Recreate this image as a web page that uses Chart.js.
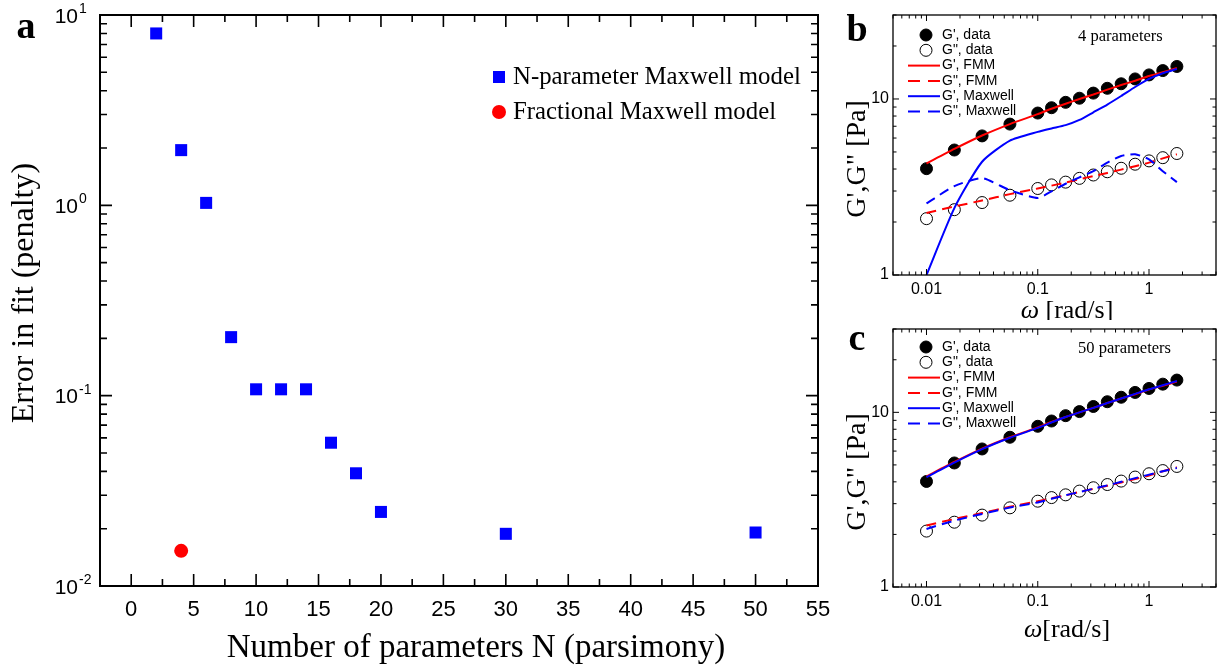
<!DOCTYPE html>
<html>
<head>
<meta charset="utf-8">
<script src="https://cdn.jsdelivr.net/npm/chart.js@4.4.1/dist/chart.umd.min.js"></script>
<style>
  body { margin: 0; background: #fff; width: 1223px; height: 671px; overflow: hidden; position: relative; }
  canvas { position: absolute; }
</style>
</head>
<body>
<canvas id="chartA" width="840" height="671" style="left:0;top:0;width:840px;height:671px"></canvas>
<canvas id="chartB" width="383" height="320" style="left:840px;top:0;width:383px;height:320px"></canvas>
<canvas id="chartC" width="383" height="351" style="left:840px;top:320px;width:383px;height:351px"></canvas>
<script>
// Error vs. number of parameters
const paramCounts = [2, 4, 6, 8, 10, 12, 14, 16, 18, 20, 30, 50];
const maxwellError = [8.0, 1.95, 1.03, 0.203, 0.108, 0.108, 0.108, 0.0566, 0.0391, 0.0245, 0.0188, 0.0191];
const fmmParams = [4];
const fmmError = [0.0153];

// Frequency sweep (rad/s) and moduli (Pa)
const omega = [0.01, 0.0178, 0.0316, 0.0562, 0.1, 0.133, 0.178, 0.237, 0.316, 0.422, 0.562, 0.75, 1, 1.33, 1.78];
const storageData = [4.02, 5.13, 6.17, 7.2, 8.32, 8.92, 9.57, 10.1, 10.8, 11.5, 12.2, 13.0, 13.7, 14.5, 15.3];
const lossData = [2.09, 2.35, 2.58, 2.84, 3.1, 3.25, 3.37, 3.54, 3.7, 3.86, 4.04, 4.26, 4.45, 4.64, 4.9];
const storageFmm = [4.3, 5.2, 6.2, 7.2, 8.2, 8.8, 9.4, 10.0, 10.6, 11.3, 12.0, 12.7, 13.5, 14.2, 15.0];
const lossFmm = [2.25, 2.45, 2.65, 2.88, 3.1, 3.22, 3.35, 3.5, 3.65, 3.8, 3.97, 4.15, 4.35, 4.6, 4.85];
const storageMaxwell4 = [1.0, 2.4, 4.4, 5.8, 6.5, 6.8, 7.1, 7.6, 8.4, 9.3, 10.4, 11.7, 13.0, 14.0, 14.8];
const lossMaxwell4 = [2.55, 3.2, 3.55, 3.03, 2.74, 2.99, 3.3, 3.59, 3.89, 4.35, 4.74, 4.85, 4.54, 3.89, 3.37];
const storageMaxwell50 = [4.25, 5.15, 6.15, 7.15, 8.15, 8.75, 9.4, 10.0, 10.6, 11.3, 12.0, 12.75, 13.55, 14.3, 15.1];
const lossMaxwell50 = [2.15, 2.4, 2.62, 2.85, 3.05, 3.2, 3.35, 3.5, 3.65, 3.82, 4.0, 4.2, 4.4, 4.6, 4.8];

const BLUE = '#0000ff';
const RED = '#ff0000';
const SERIF = '"Liberation Serif", "Times New Roman", serif';
const SANS = '"Liberation Sans", Arial, sans-serif';

const pts = (xs, ys) => xs.map((x, i) => ({ x: x, y: ys[i] }));

// tick lists: {v, major}
const logTicks = (min, max) => {
  const out = [];
  for (let d = Math.floor(Math.log10(min)); d <= Math.ceil(Math.log10(max)); d++) {
    for (let m = 1; m < 10; m++) {
      const v = m * Math.pow(10, d);
      if (v >= min * 0.999 && v <= max * 1.001) out.push({ v: v, major: m === 1 });
    }
  }
  return out;
};
const linTicks = (from, to, step, majorEvery) => {
  const out = [];
  for (let v = from; v <= to + 1e-9; v += step) {
    out.push({ v: v, major: Math.abs(v / majorEvery - Math.round(v / majorEvery)) < 1e-6 });
  }
  return out;
};

// box frame with inward ticks on all four sides
const axisFrame = {
  id: 'axisFrame',
  afterDatasetsDraw(chart, args, o) {
    const { ctx, chartArea: a, scales } = chart;
    const x = scales.x, y = scales.y;
    ctx.save();
    ctx.strokeStyle = '#000';
    ctx.lineWidth = o.tickWidth;
    ctx.beginPath();
    o.xTicks.forEach(t => {
      const px = x.getPixelForValue(t.v);
      const len = t.major ? o.majorLen : o.minorLen;
      ctx.moveTo(px, a.bottom); ctx.lineTo(px, a.bottom - len);
      ctx.moveTo(px, a.top); ctx.lineTo(px, a.top + len);
    });
    o.yTicks.forEach(t => {
      const py = y.getPixelForValue(t.v);
      const len = t.major ? o.majorLen : o.minorLen;
      ctx.moveTo(a.left, py); ctx.lineTo(a.left + len, py);
      ctx.moveTo(a.right, py); ctx.lineTo(a.right - len, py);
    });
    ctx.stroke();
    ctx.lineWidth = o.frameWidth;
    ctx.strokeRect(a.left, a.top, a.right - a.left, a.bottom - a.top);
    ctx.restore();
  }
};

const text = (ctx, str, x, y, font, align, baseline) => {
  ctx.font = font;
  ctx.textAlign = align || 'center';
  ctx.textBaseline = baseline || 'middle';
  ctx.fillText(str, x, y);
};

// ---- panel a ----
const panelAText = {
  id: 'panelAText',
  afterDraw(chart) {
    const { ctx, chartArea: a, scales: { x, y } } = chart;
    ctx.save();
    ctx.fillStyle = '#000';
    for (let v = 0; v <= 55; v += 5) {
      text(ctx, String(v), x.getPixelForValue(v), a.bottom + 24, '22px ' + SANS);
    }
    [-2, -1, 0, 1].forEach(p => {
      const py = y.getPixelForValue(Math.pow(10, p));
      text(ctx, '10', 78, py + 2, '21px ' + SANS, 'right');
      text(ctx, String(p), 79, py - 6, '14px ' + SANS, 'left');
    });
    text(ctx, 'Number of parameters N (parsimony)', 476, 648, '33px ' + SERIF);
    ctx.save();
    ctx.translate(25, 293);
    ctx.rotate(-Math.PI / 2);
    text(ctx, 'Error in fit (penalty)', 0, 0, '32px ' + SERIF);
    ctx.restore();
    text(ctx, 'a', 26, 38, 'bold 38px ' + SERIF, 'center', 'alphabetic');

    // legend
    ctx.fillStyle = BLUE;
    ctx.fillRect(493, 71, 12, 12);
    ctx.fillStyle = RED;
    ctx.beginPath();
    ctx.arc(499, 112, 7, 0, Math.PI * 2);
    ctx.fill();
    ctx.fillStyle = '#000';
    text(ctx, 'N-parameter Maxwell model', 513, 77, '24.8px ' + SERIF, 'left');
    text(ctx, 'Fractional Maxwell model', 513, 112, '24.8px ' + SERIF, 'left');
    ctx.restore();
  }
};

new Chart(document.getElementById('chartA'), {
  type: 'scatter',
  data: {
    datasets: [
      {
        label: 'N-parameter Maxwell model',
        data: pts(paramCounts, maxwellError),
        pointStyle: 'rect', pointRadius: 8.5,
        backgroundColor: BLUE, borderColor: BLUE, borderWidth: 0
      },
      {
        label: 'Fractional Maxwell model',
        data: pts(fmmParams, fmmError),
        pointStyle: 'circle', pointRadius: 7,
        backgroundColor: RED, borderColor: RED, borderWidth: 0
      }
    ]
  },
  options: {
    responsive: false, animation: false, events: [],
    layout: { padding: { left: 100, top: 15, right: 22, bottom: 85 } },
    scales: {
      x: { type: 'linear', min: -2.5, max: 55, display: false },
      y: { type: 'logarithmic', min: 0.01, max: 10, display: false }
    },
    plugins: {
      legend: { display: false }, tooltip: { enabled: false },
      axisFrame: {
        xTicks: linTicks(0, 52.5, 2.5, 5), yTicks: logTicks(0.01, 10),
        majorLen: 12, minorLen: 7, tickWidth: 1.6, frameWidth: 2
      }
    }
  },
  plugins: [axisFrame, panelAText]
});

// ---- panels b and c ----
const DASH = [10, 6];
const rheoLegend = [
  { label: "G', data", kind: 'filled' },
  { label: 'G", data', kind: 'open' },
  { label: "G', FMM", kind: 'line', color: RED, dash: [] },
  { label: 'G", FMM', kind: 'line', color: RED, dash: [12, 8] },
  { label: "G', Maxwell", kind: 'line', color: BLUE, dash: [] },
  { label: 'G", Maxwell', kind: 'line', color: BLUE, dash: [12, 8] }
];

function rheoChart(id, storageFit, lossFit, o) {
  const line = (label, ys, color, dash) => ({
    label: label, data: pts(omega, ys), showLine: true,
    borderColor: color, borderWidth: 2, borderDash: dash,
    pointRadius: 0, tension: 0.2, fill: false
  });
  const marks = (label, ys, bg) => ({
    label: label, data: pts(omega, ys), showLine: false,
    pointRadius: 6, pointBackgroundColor: bg, pointBorderColor: '#000', pointBorderWidth: 1
  });

  const panelText = {
    id: 'panelText',
    afterDraw(chart) {
      const { ctx, chartArea: a, scales: { x, y } } = chart;
      ctx.save();
      ctx.fillStyle = '#000';
      [['0.01', 0.01], ['0.1', 0.1], ['1', 1]].forEach(([s, v]) => {
        text(ctx, s, x.getPixelForValue(v), a.bottom + 15, '16px ' + SANS);
      });
      [['1', 1], ['10', 10]].forEach(([s, v]) => {
        text(ctx, s, a.left - 4, y.getPixelForValue(v), '16px ' + SANS, 'right');
      });
      // ω [rad/s]
      ctx.font = 'italic 26px ' + SERIF;
      const w1 = ctx.measureText('ω').width;
      ctx.font = '26px ' + SERIF;
      const w2 = ctx.measureText(o.xRest).width;
      const x0 = 227 - (w1 + w2) / 2;
      text(ctx, 'ω', x0, o.xTitleY, 'italic 26px ' + SERIF, 'left');
      text(ctx, o.xRest, x0 + w1, o.xTitleY, '26px ' + SERIF, 'left');
      ctx.save();
      ctx.translate(18, (a.top + a.bottom) / 2 + 14);
      ctx.rotate(-Math.PI / 2);
      text(ctx, 'G\',G" [Pa]', 0, 0, '28px ' + SERIF);
      ctx.restore();
      text(ctx, o.letter, 17, o.letterY, 'bold 38px ' + SERIF, 'center', 'alphabetic');
      text(ctx, o.note, 238, a.top + o.legendDy + 2, '16.5px ' + SERIF, 'left');

      rheoLegend.forEach((row, i) => {
        const ry = a.top + o.legendDy + i * 15.3;
        if (row.kind === 'line') {
          ctx.strokeStyle = row.color;
          ctx.lineWidth = 2;
          ctx.setLineDash(row.dash);
          ctx.beginPath();
          ctx.moveTo(68, ry); ctx.lineTo(100, ry);
          ctx.stroke();
          ctx.setLineDash([]);
        } else {
          ctx.beginPath();
          ctx.arc(86, ry, 6, 0, Math.PI * 2);
          ctx.fillStyle = row.kind === 'filled' ? '#000' : '#fff';
          ctx.fill();
          ctx.strokeStyle = '#000';
          ctx.lineWidth = 1;
          ctx.stroke();
        }
        ctx.fillStyle = '#000';
        text(ctx, row.label, 102, ry, '14px ' + SANS, 'left');
      });
      ctx.restore();
    }
  };

  return new Chart(document.getElementById(id), {
    type: 'scatter',
    data: {
      datasets: [
        line("G', Maxwell", storageFit, BLUE, []),
        line('G", Maxwell', lossFit, BLUE, DASH),
        line("G', FMM", storageFmm, RED, []),
        line('G", FMM', lossFmm, RED, DASH),
        marks("G', data", storageData, '#000'),
        marks('G", data', lossData, '#fff')
      ]
    },
    options: {
      responsive: false, animation: false, events: [],
      layout: { padding: o.padding },
      scales: {
        x: { type: 'logarithmic', min: 0.005, max: 4, display: false },
        y: { type: 'logarithmic', min: 1, max: 30, display: false }
      },
      plugins: {
        legend: { display: false }, tooltip: { enabled: false },
        axisFrame: {
          xTicks: logTicks(0.005, 4), yTicks: logTicks(1, 30),
          majorLen: 6, minorLen: 3.5, tickWidth: 1, frameWidth: 1.3
        }
      }
    },
    plugins: [axisFrame, panelText]
  });
}

rheoChart('chartB', storageMaxwell4, lossMaxwell4, {
  padding: { left: 53, right: 2, top: 15, bottom: 45 },
  letter: 'b', letterY: 41, note: '4 parameters', legendDy: 20,
  xRest: ' [rad/s]', xTitleY: 311
});
rheoChart('chartC', storageMaxwell50, lossMaxwell50, {
  padding: { left: 53, right: 2, top: 9, bottom: 84 },
  letter: 'c', letterY: 30, note: '50 parameters', legendDy: 18,
  xRest: '[rad/s]', xTitleY: 310
});
</script>
</body>
</html>
